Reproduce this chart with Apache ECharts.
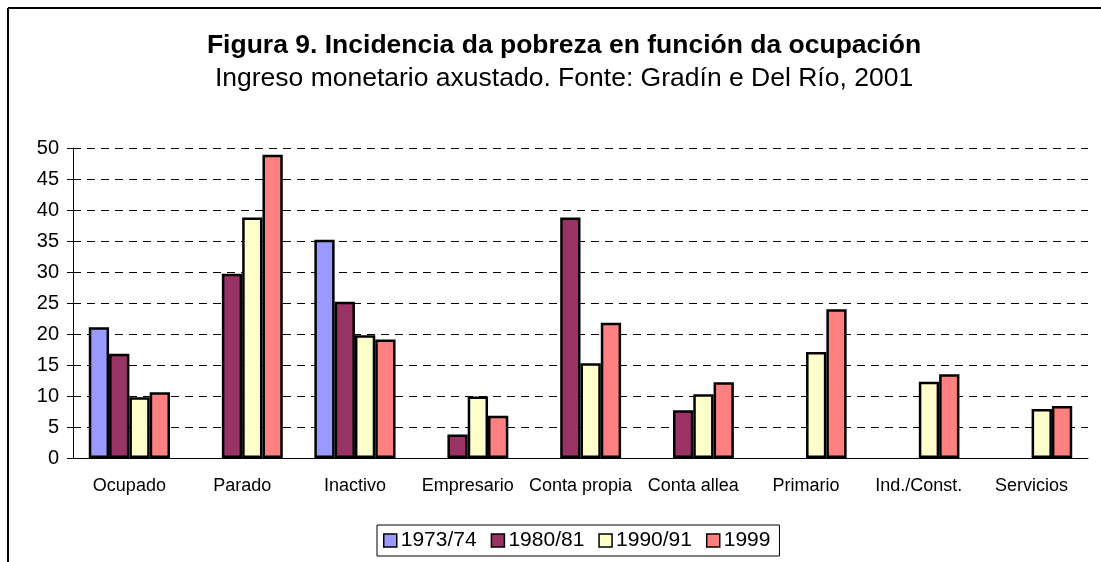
<!DOCTYPE html>
<html>
<head>
<meta charset="utf-8">
<script src="https://cdn.jsdelivr.net/npm/echarts@6/dist/echarts.min.js"></script>
<style>
  html, body { margin: 0; padding: 0; background: #fff; }
</style>
</head>
<body>
<div id="main" style="width: 1101px;height:562px;"></div>
<script>
// categorias e valores (le dos da figura)
var categories = ['Ocupado', 'Parado', 'Inactivo', 'Empresario', 'Conta propia', 'Conta allea', 'Primario', 'Ind./Const.', 'Servicios'];
var yTicks = [0, 5, 10, 15, 20, 25, 30, 35, 40, 45, 50];
var s1973 = [21.1, null, 35.2, null, null, null, null, null, null];
var s1980 = [16.8, 29.7, 25.2, 3.8, 38.8, 7.7, null, null, null];
var s1990 = [9.8, 38.8, 19.8, 9.9, 15.3, 10.3, 17.1, 12.3, 7.9];
var s1999 = [10.6, 48.9, 19.1, 6.8, 21.8, 12.2, 24.0, 13.5, 8.4];

var font = 'Arial, "Liberation Sans", sans-serif';

function bar (name, data, color) {
  return {
    name: name,
    type: 'bar',
    data: data,
    barGap: '0%',
    barCategoryGap: '28%',
    itemStyle: { color: color, borderColor: '#000', borderWidth: 2.5 }
  };
}

var chart = echarts.init(document.getElementById('main'));
chart.setOption({
  animation: false,
  backgroundColor: '#fff',
  title: {
    text: 'Figura 9. Incidencia da pobreza en función da ocupación',
    subtext: 'Ingreso monetario axustado. Fonte: Gradín e Del Río, 2001',
    left: 559,
    textAlign: 'center',
    top: 27,
    itemGap: 6,
    textStyle: { fontFamily: font, fontSize: 26.5, fontWeight: 'bold', color: '#000' },
    subtextStyle: { fontFamily: font, fontSize: 26.5, color: '#000' }
  },
  legend: {
    data: ['1973/74', '1980/81', '1990/91', '1999'],
    left: 377,
    top: 525,
    padding: [5, 9, 5, 6],
    borderColor: '#000',
    borderWidth: 1,
    itemWidth: 13,
    itemHeight: 13,
    itemGap: 14,
    icon: 'rect',
    itemStyle: { borderWidth: 1.5 },
    textStyle: { fontFamily: font, fontSize: 21, color: '#000', padding: [0, 0, 0, -1] }
  },
  grid: { left: 73, right: 13, top: 148, bottom: 104 },
  xAxis: {
    type: 'category',
    data: categories,
    axisLine: { lineStyle: { color: '#000', width: 1 } },
    axisTick: { length: 6, lineStyle: { color: '#000' } },
    axisLabel: { interval: 0, fontFamily: font, fontSize: 18, color: '#000', margin: 19 }
  },
  yAxis: {
    type: 'value',
    min: yTicks[0],
    max: yTicks[yTicks.length - 1],
    interval: 5,
    axisLine: { show: true, lineStyle: { color: '#000', width: 1 } },
    axisTick: { show: true, length: 6, lineStyle: { color: '#000' } },
    axisLabel: { fontFamily: font, fontSize: 20, color: '#000', margin: 14 },
    splitLine: { lineStyle: { color: '#000', width: 1, type: [8, 6] } }
  },
  graphic: [
    { type: 'line', shape: { x1: 8, y1: 8, x2: 1101, y2: 8 }, style: { stroke: '#000', lineWidth: 2 } },
    { type: 'line', shape: { x1: 8, y1: 8, x2: 8, y2: 562 }, style: { stroke: '#000', lineWidth: 2 } }
  ],
  series: [
    bar('1973/74', s1973, '#9999FF'),
    bar('1980/81', s1980, '#993366'),
    bar('1990/91', s1990, '#FFFFCC'),
    bar('1999', s1999, '#FF8080')
  ]
});
</script>
</body>
</html>
